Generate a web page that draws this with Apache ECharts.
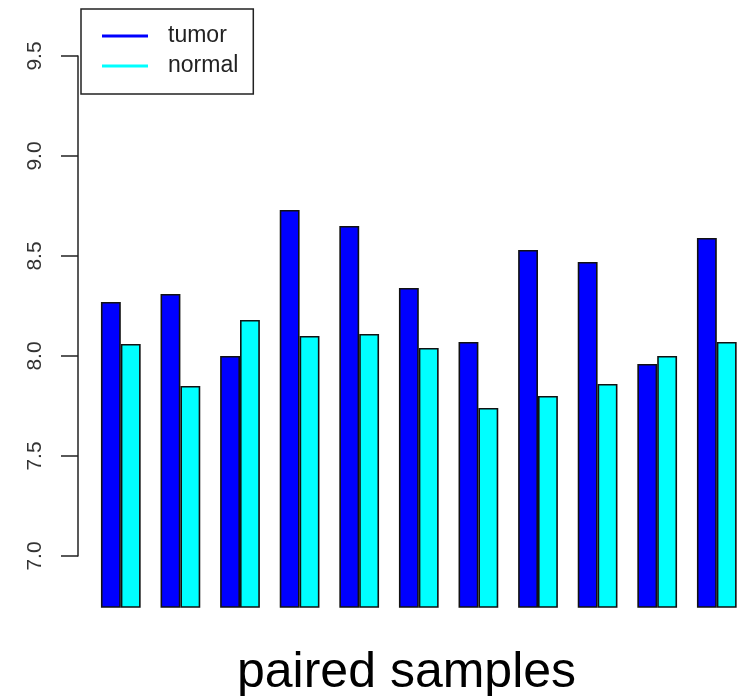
<!DOCTYPE html>
<html>
<head>
<meta charset="utf-8">
<script src="https://cdn.jsdelivr.net/npm/echarts@6/dist/echarts.min.js"></script>
<style>
  html, body { margin: 0; padding: 0; background: #fff; }
  #chart { width: 737px; height: 696px; }
</style>
</head>
<body>
<div id="chart"></div>
<script>
// Paired expression values: tumor vs. matched normal tissue
const pairs = ['1', '2', '3', '4', '5', '6', '7', '8', '9', '10', '11'];
const tumor = [8.27, 8.31, 8.00, 8.73, 8.65, 8.34, 8.07, 8.53, 8.47, 7.96, 8.59];
const normal = [8.06, 7.85, 8.18, 8.10, 8.11, 8.04, 7.74, 7.80, 7.86, 8.00, 8.07];
const yTicks = [7.0, 7.5, 8.0, 8.5, 9.0, 9.5];
const seriesNames = ['tumor', 'normal'];

const FONT = "'Liberation Sans', Arial, sans-serif";
const barBorder = { borderColor: '#111', borderWidth: 1.6 };

const chart = echarts.init(document.getElementById('chart'), null, { renderer: 'canvas' });

chart.setOption({
  animation: false,
  backgroundColor: '#ffffff',
  grid: [
    // plotting region for the bars (bars rise from the bottom edge; last pair runs off the right edge)
    { left: 91, width: 655.6, top: 9, bottom: 89, outerBoundsMode: 'none', containLabel: false },
    // region that carries the labelled value axis (7.0 .. 9.5)
    { left: 78, width: 10, top: 56, bottom: 140, outerBoundsMode: 'none', containLabel: false }
  ],
  xAxis: [
    { type: 'category', gridIndex: 0, data: pairs, show: false },
    { type: 'value', gridIndex: 1, show: false, min: 0, max: 1 }
  ],
  yAxis: [
    { type: 'value', gridIndex: 0, min: 6.745, max: 9.735, show: false },
    {
      type: 'value', gridIndex: 1,
      min: yTicks[0], max: yTicks[yTicks.length - 1], interval: 0.5,
      axisLine: { show: true, lineStyle: { color: '#222', width: 1.5 } },
      axisTick: { show: true, length: 17, lineStyle: { color: '#222', width: 1.5 } },
      splitLine: { show: false },
      axisLabel: {
        rotate: 90, margin: 32, color: '#333', fontSize: 21, fontFamily: FONT,
        formatter: v => v.toFixed(1)
      }
    }
  ],
  legend: {
    left: 81, top: 9,
    orient: 'vertical',
    backgroundColor: '#fff',
    borderColor: '#222', borderWidth: 1.5,
    padding: [14, 15, 15, 21],
    itemGap: 4,
    itemWidth: 46, itemHeight: 3,
    icon: 'rect',
    itemStyle: { borderWidth: 0 },
    textStyle: { fontSize: 23, fontFamily: FONT, color: '#222', padding: [4, 0, 0, 15], lineHeight: 22 },
    data: seriesNames
  },
  series: [
    {
      name: seriesNames[0], type: 'bar', xAxisIndex: 0, yAxisIndex: 0,
      data: tumor, barGap: 0, barCategoryGap: '33.33%',
      itemStyle: Object.assign({ color: '#0000ff' }, barBorder)
    },
    {
      name: seriesNames[1], type: 'bar', xAxisIndex: 0, yAxisIndex: 0,
      data: normal, barGap: 0, barCategoryGap: '33.33%',
      itemStyle: Object.assign({ color: '#00ffff' }, barBorder)
    }
  ],
  graphic: [
    {
      type: 'text', left: 237, top: 648,
      style: { text: 'paired samples', fontSize: 50, fontFamily: FONT, fill: '#000' }
    }
  ]
});
</script>
</body>
</html>
